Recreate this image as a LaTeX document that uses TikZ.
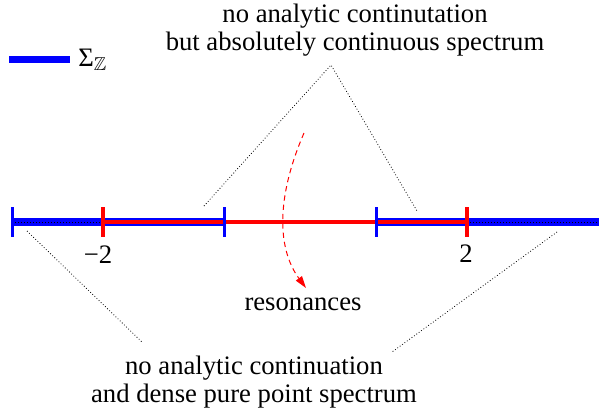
\documentclass[tikz,border=0pt]{standalone}
\usepackage{amssymb}
\usepackage{fontspec}
\setmainfont{Liberation Serif}
\newfontfamily\labelfont{Liberation Serif}
\usetikzlibrary{arrows.meta, calc}
\tikzset{
  >={Triangle[length=9pt, width=5.5pt, fill=red]},
  band/.style     = {draw=blue, line width=6pt},
  keyline/.style  = {draw=blue, line width=5.25pt},
  resline/.style  = {draw=red, line width=3pt},
  bluetick/.style = {draw=blue, line width=2.25pt},
  redtick/.style  = {draw=red, line width=3pt},
  pp/.style       = {draw=black, line width=0.75pt, dash pattern=on 0.75pt off 1.5pt},
  note/.style     = {draw=black, line width=0.6pt, dash pattern=on 0.6pt off 1.6pt},
  resarrow/.style = {->, draw=red, line width=0.75pt, dash pattern=on 4pt off 3pt},
  txt/.style      = {font=\labelfont\fontsize{20}{21}\selectfont, inner sep=0pt, align=center},
}

\begin{document}
\begin{tikzpicture}[x=0.75pt, y=-0.75pt]
  \useasboundingbox (0,0) rectangle (599,411);

  % points on the axis
  \coordinate (L) at (12,222);
  \coordinate (a) at (103,222);
  \coordinate (b) at (224,222);
  \coordinate (c) at (376,222);
  \coordinate (d) at (467,222);
  \coordinate (R) at (599,222);

  % spectrum
  \draw[band] (L) -- (b);
  \draw[band] (c) -- (R);
  \draw[pp]   (L) -- (a);
  \draw[pp]   (d) -- (R);
  \draw[resline] (a) -- (d);
  \foreach \p in {L, b, c}
    \draw[bluetick] ($(\p)+(0,-15)$) -- ($(\p)+(0,15)$);
  \foreach \p in {a, d}
    \draw[redtick] ($(\p)+(0,-15)$) -- ($(\p)+(0,15)$);

  \node[txt, anchor=base] (m2) at (98,263)  {−2};
  \node[txt, anchor=base] (p2) at (466,262) {2};

  % legend
  \coordinate (k0) at (9,59);
  \coordinate (k1) at (70,59);
  \draw[keyline] (k0) -- (k1);
  \node[txt, anchor=base west] (sig) at (78,66) {Σ$_{\mathbb{Z}}$};

  % absolutely continuous part
  \node[txt] (acs) at (355,30)
    {no analytic continutation\\but absolutely continuous spectrum};
  \coordinate (acs tip) at (331,65);
  \coordinate (acs l) at (204,206);
  \coordinate (acs r) at (417,211);
  \draw[note] (acs l) -- (acs tip) -- (acs r);

  % pure point part
  \node[txt] (pps) at (254,382)
    {no analytic continuation\\and dense pure point spectrum};
  \coordinate (pps l) at (27,231);
  \coordinate (pps l end) at (143,343);
  \coordinate (pps r) at (557,232);
  \coordinate (pps r end) at (392,352);
  \draw[note] (pps l) -- (pps l end);
  \draw[note] (pps r) -- (pps r end);

  % resonances
  \node[txt, anchor=base] (res) at (303,310) {resonances};
  \coordinate (rs0) at (304,133);
  \coordinate (rs1) at (306,288);
  \draw[resarrow] (rs0) .. controls (275,200) and (278,250) .. (rs1);
\end{tikzpicture}
\end{document}
